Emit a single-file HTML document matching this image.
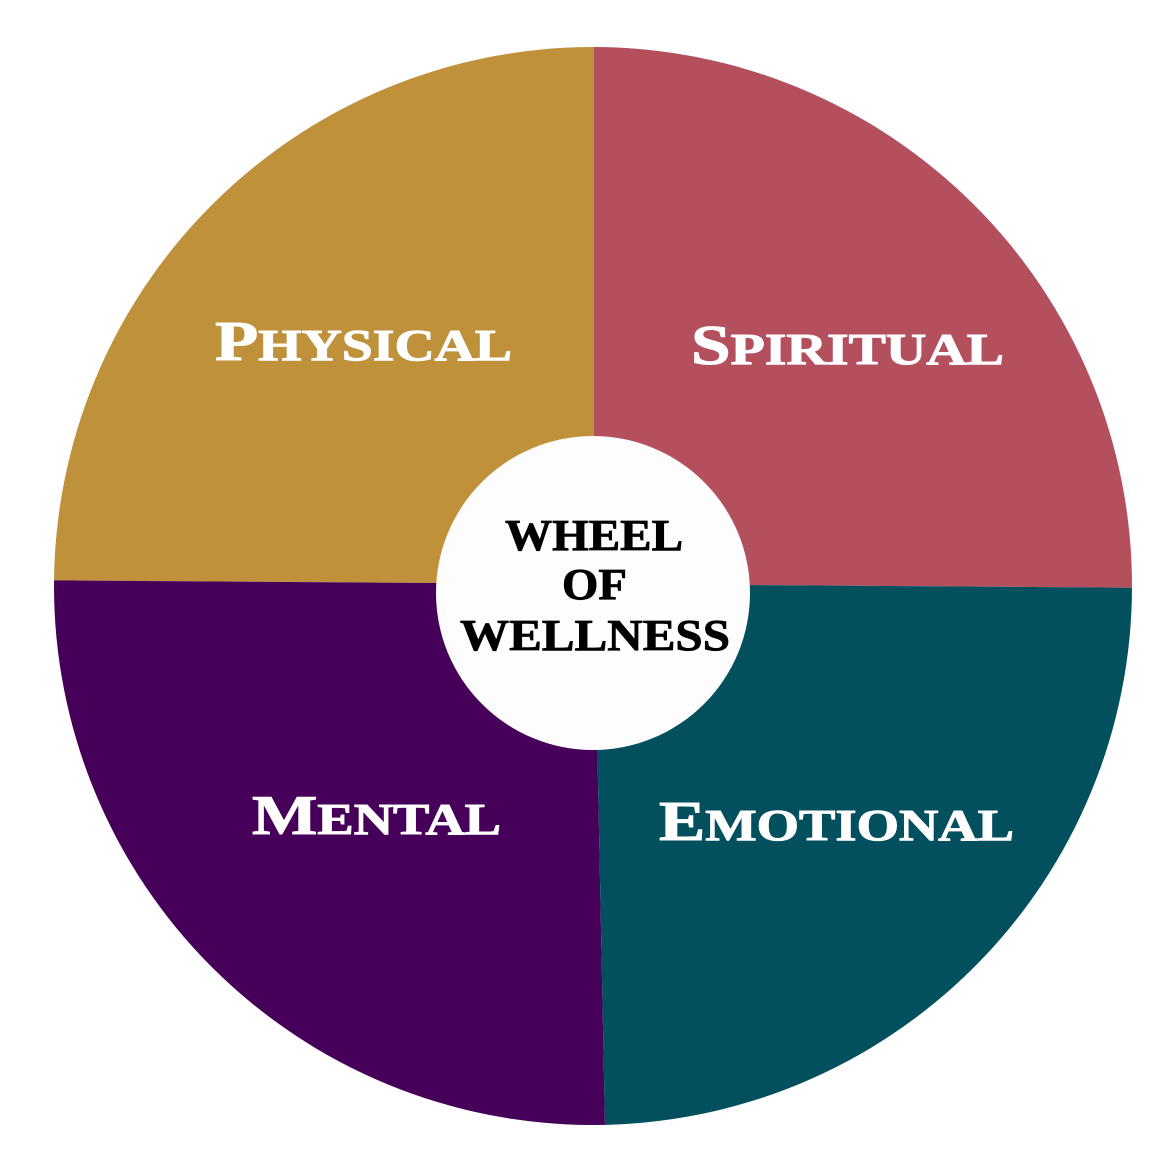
<!DOCTYPE html>
<html><head><meta charset="utf-8"><style>
html,body{margin:0;padding:0;background:#fff;width:1176px;height:1176px;overflow:hidden}
svg{display:block}
text{font-family:"Liberation Serif",serif;font-weight:bold}
</style></head><body>
<svg width="1176" height="1176" viewBox="0 0 1176 1176">
<defs><clipPath id="c"><circle cx="593" cy="586" r="539"/></clipPath></defs>
<g clip-path="url(#c)">
<polygon points="0,0 594,0 594,584 0,580" fill="#C0913B"/>
<polygon points="594,0 1176,0 1176,588 594,584" fill="#B4505E"/>
<polygon points="0,580 594,584 606,1176 0,1176" fill="#460059"/>
<polygon points="594,584 1176,588 1176,1176 606,1176" fill="#024F5E"/>
</g>
<circle cx="593" cy="593" r="157" fill="#fdfdfd"/>
<g fill="#fff" stroke="#fff" stroke-width="1">
<text x="215" y="360" font-size="56" textLength="297" lengthAdjust="spacingAndGlyphs">P<tspan font-size="44">HYSICAL</tspan></text>
<text x="691" y="364" font-size="56" textLength="313" lengthAdjust="spacingAndGlyphs">S<tspan font-size="44">PIRITUAL</tspan></text>
<text x="252" y="834" font-size="56" textLength="249" lengthAdjust="spacingAndGlyphs">M<tspan font-size="44">ENTAL</tspan></text>
<text x="659" y="840" font-size="56" textLength="355" lengthAdjust="spacingAndGlyphs">E<tspan font-size="44">MOTIONAL</tspan></text>
</g>
<g fill="#000" font-size="44" stroke="#000" stroke-width="0.8">
<text x="505" y="550" textLength="178" lengthAdjust="spacingAndGlyphs">WHEEL</text>
<text x="562" y="599" textLength="65" lengthAdjust="spacingAndGlyphs">OF</text>
<text x="460" y="650" textLength="270" lengthAdjust="spacingAndGlyphs">WELLNESS</text>
</g>
</svg>
</body></html>
